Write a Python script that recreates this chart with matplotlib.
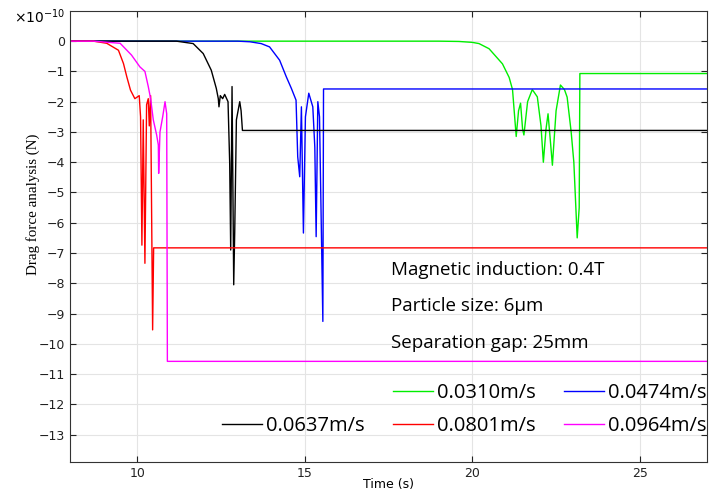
import numpy as np
import matplotlib
matplotlib.use("Agg")
import matplotlib.pyplot as plt
from matplotlib.lines import Line2D

# Données (force de traînée en unités de 1e-10 N)
labels = ["0.0310m/s", "0.0474m/s", "0.0637m/s", "0.0801m/s", "0.0964m/s"]
couleurs = ["#00ee00", "#0000ff", "#000000", "#ff0000", "#ff00ff"]

t_green = [8, 19.0, 19.6, 20.0, 20.2, 20.5, 20.9, 21.1, 21.2, 21.31, 21.38, 21.44, 21.5,
           21.54, 21.65, 21.79, 21.94, 22.05, 22.12, 22.2, 22.26, 22.33, 22.39, 22.5,
           22.63, 22.75, 22.83, 22.95, 23.03, 23.13, 23.19, 23.21, 27]
f_green = [0, 0, -0.01, -0.04, -0.08, -0.25, -0.75, -1.2, -1.6, -3.15, -2.3, -2.05, -2.9,
           -3.1, -2.0, -1.6, -1.84, -2.8, -4.0, -2.9, -2.4, -3.3, -4.1, -2.3,
           -1.45, -1.6, -1.85, -3.0, -4.0, -6.5, -5.5, -1.07, -1.07]

t_blue = [8, 13.0, 13.36, 13.7, 13.95, 14.25, 14.45, 14.6, 14.74, 14.79, 14.85, 14.9,
          14.96, 15.02, 15.12, 15.24, 15.3, 15.34, 15.39, 15.44, 15.54, 15.56, 27]
f_blue = [0, 0, -0.02, -0.08, -0.19, -0.63, -1.18, -1.56, -1.95, -3.82, -4.48, -2.17,
          -6.34, -2.5, -1.72, -2.17, -3.5, -6.46, -2.0, -2.5, -9.26, -1.58, -1.58]

t_black = [8, 11.17, 11.67, 11.97, 12.21, 12.36, 12.42, 12.44, 12.48, 12.55, 12.61, 12.71,
           12.76, 12.79, 12.83, 12.88, 12.91, 12.96, 13.06, 13.1, 13.14, 27]
f_black = [0, 0, -0.08, -0.41, -0.96, -1.56, -1.9, -2.17, -1.8, -1.9, -1.76, -2.0,
           -4.04, -6.9, -1.5, -8.05, -6.3, -2.6, -2.0, -2.3, -2.95, -2.95]

t_red = [8, 8.69, 9.09, 9.44, 9.59, 9.69, 9.8, 9.93, 10.06, 10.1, 10.14, 10.18, 10.23,
         10.28, 10.33, 10.36, 10.4, 10.46, 10.49, 27]
f_red = [0, 0, -0.07, -0.3, -0.74, -1.18, -1.62, -1.9, -1.8, -2.5, -6.74, -2.6, -7.34,
         -2.1, -1.9, -2.8, -1.8, -9.54, -6.83, -6.83]

t_mag = [8, 8.69, 9.49, 9.83, 10.08, 10.23, 10.33, 10.4, 10.48, 10.58, 10.63, 10.64,
         10.68, 10.76, 10.83, 10.88, 10.9, 27]
f_mag = [0, 0, -0.07, -0.46, -0.85, -1.0, -1.5, -1.9, -2.6, -3.1, -3.43, -4.37,
         -3.0, -2.5, -2.0, -2.4, -10.58, -10.58]

series = [(t_green, f_green), (t_blue, f_blue), (t_black, f_black),
          (t_red, f_red), (t_mag, f_mag)]

annotations = ["Magnetic induction: 0.4T", "Particle size: 6μm", "Separation gap: 25mm"]

# Figure
fig = plt.figure(figsize=(7.09, 4.95), dpi=100)
ax = fig.add_axes([0.099, 0.067, 0.898, 0.911])

lignes = []
for (t, f), c, lab in zip(series, couleurs, labels):
    l, = ax.plot(t, f, color=c, lw=1, label=lab)
    lignes.append(l)

ax.set_xlim(8, 27)
ax.set_ylim(-13.9, 1.0)
ax.set_xticks([10, 15, 20, 25])
ax.set_yticks(np.arange(0, -14, -1))
ax.set_yticklabels(["0"] + [f"\u2212{i}" for i in range(1, 14)])
ax.grid(True, color="#e4e4e4", lw=0.8)
ax.set_axisbelow(True)
ax.tick_params(direction="in", top=True, right=True, length=4, labelsize=9,
               colors="#222222")
for s in ax.spines.values():
    s.set_color("#333333")

ax.set_xlabel("Time (s)", fontsize=9, family="DejaVu Sans", labelpad=-1)
ax.set_ylabel("Drag force analysis (N)", fontsize=10.8, family="Liberation Serif")
ax.yaxis.set_label_coords(-0.047, 0.572)
fig.text(0.02, 0.967, r"$\times10^{-10}$", fontsize=10, va="center")

# Texte d'information
for k, txt in enumerate(annotations):
    ax.text(17.58, -7.56 - 1.205 * k, txt, fontsize=13.5, family="Open Sans",
            va="center", ha="left")

# Légende sur deux lignes, premier emplacement vide
vide = Line2D([], [], color="none")
handles = [vide, lignes[2], lignes[0], lignes[3], lignes[1], lignes[4]]
noms = ["", labels[2], labels[0], labels[3], labels[1], labels[4]]
ax.legend(handles, noms, ncol=3, loc="lower right", bbox_to_anchor=(1.0, 0.058),
          frameon=False, prop={"family": "Open Sans", "size": 14.5},
          handlelength=2.0, handletextpad=0.2, columnspacing=1.4,
          labelspacing=0.65, borderpad=0, borderaxespad=0)

fig.savefig("out.png", dpi=100)
